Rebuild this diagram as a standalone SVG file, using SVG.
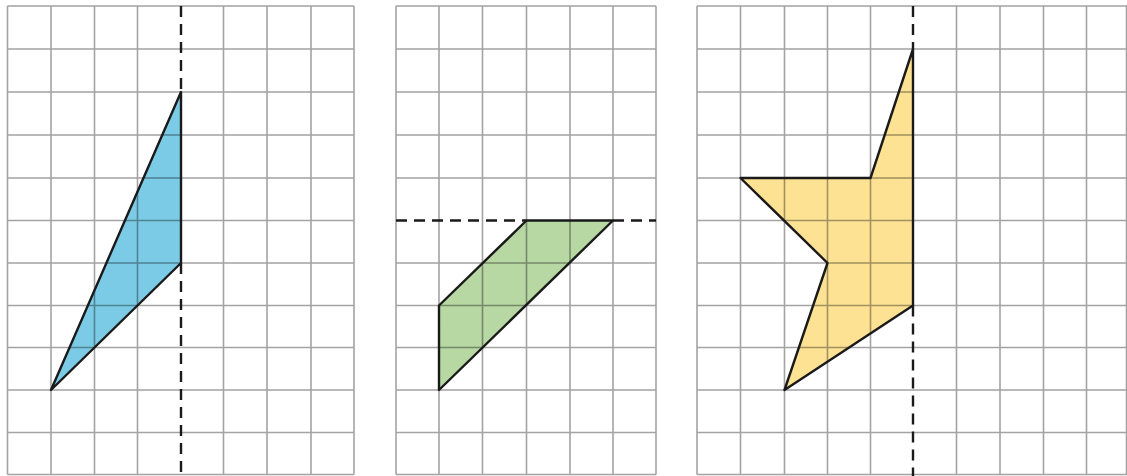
<svg xmlns="http://www.w3.org/2000/svg" width="1127" height="476" viewBox="0 0 1127 476">
<style>
.grid{stroke:#a3a3a3;stroke-width:1.6;fill:none;mix-blend-mode:multiply}
.shape{stroke:#1a1a1a;stroke-width:2.4;stroke-linejoin:round}
.dash{stroke:#1a1a1a;stroke-width:2.4;stroke-dasharray:11 7;fill:none}
</style>
<rect width="1127" height="476" fill="#ffffff"/>
<g id="panel1">
<polygon id="blue-triangle-fill" points="181,92 181,263 51,390" fill="#7ccbe6"/>
<g class="grid">
<path d="M7.5,6V474.5M51,6V474.5M94.5,6V474.5M137.5,6V474.5M223.5,6V474.5M267,6V474.5M311,6V474.5M354,6V474.5"/>
<path d="M7.5,6H354M7.5,49H354M7.5,92H354M7.5,135H354M7.5,178H354M7.5,220.5H354M7.5,263H354M7.5,305.5H354M7.5,347.5H354M7.5,390H354M7.5,432.5H354M7.5,474.5H354"/>
</g>
<polygon class="shape" points="181,92 181,263 51,390" fill="none"/>
<path class="dash" d="M181,6V92M181,263V476"/>
</g>
<g id="panel2">
<polygon points="439,305.5 526.5,220.5 613,220.5 439,390" fill="#b7d7a3"/>
<g class="grid">
<path d="M396,6V474.5M439,6V474.5M482.5,6V474.5M526.5,6V474.5M570,6V474.5M613,6V474.5M656,6V474.5"/>
<path d="M396,6H656M396,49H656M396,92H656M396,135H656M396,178H656M396,263H656M396,305.5H656M396,347.5H656M396,390H656M396,432.5H656M396,474.5H656"/>
</g>
<polygon class="shape" points="439,305.5 526.5,220.5 613,220.5 439,390" fill="none"/>
<path class="dash" d="M396,220.5H526.5M613,220.5H656"/>
</g>
<g id="panel3">
<polygon points="913,49 870.5,178 740.5,178 827.5,263 784.5,390 913,305.5" fill="#fde293"/>
<g class="grid">
<path d="M697,6V474.5M740.5,6V474.5M784.5,6V474.5M827.5,6V474.5M870.5,6V474.5M956.5,6V474.5M1000,6V474.5M1043.5,6V474.5M1086.5,6V474.5M1126.5,6V474.5"/>
<path d="M697,6H1127M697,49H1127M697,92H1127M697,135H1127M697,178H1127M697,220.5H1127M697,263H1127M697,305.5H1127M697,347.5H1127M697,390H1127M697,432.5H1127M697,474.5H1127"/>
</g>
<polygon class="shape" points="913,49 870.5,178 740.5,178 827.5,263 784.5,390 913,305.5" fill="none"/>
<path class="dash" d="M913,6V49M913,305.5V476"/>
</g>
</svg>
